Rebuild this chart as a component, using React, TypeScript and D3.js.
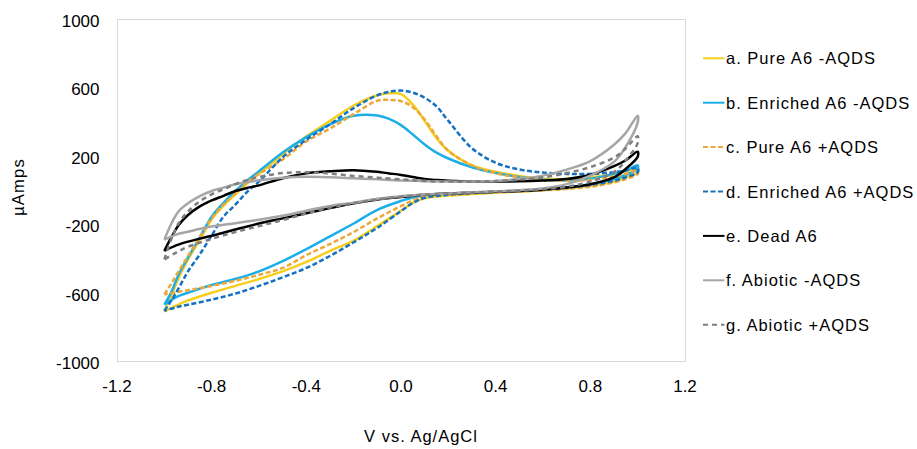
import React from "react";
import * as d3 from "d3";

// Potential grids (V vs. Ag/AgCl): forward scan and reverse scan
const FWD_V = [-1, -0.97, -0.94, -0.9, -0.85, -0.8, -0.75, -0.7, -0.65, -0.6, -0.5, -0.4, -0.3, -0.2, -0.1, -0.05, 0, 0.05, 0.1, 0.15, 0.2, 0.3, 0.4, 0.5, 0.6, 0.7, 0.8, 0.9, 0.95, 1.0];
const REV_V = [1.0, 0.95, 0.9, 0.8, 0.7, 0.6, 0.5, 0.4, 0.3, 0.2, 0.1, 0.05, 0, -0.1, -0.2, -0.3, -0.4, -0.5, -0.6, -0.7, -0.8, -0.9, -0.95, -1.0];

// Currents (µAmps)
const A_FWD = [-705, -610, -510, -400, -285, -165, -85, -20, 45, 100, 215, 320, 410, 500, 560, 572, 566, 505, 410, 310, 235, 150, 113, 88, 72, 70, 80, 100, 115, 135];
const A_REV = [110, 80, 55, 30, 15, 5, -3, -10, -18, -27, -42, -70, -115, -205, -290, -350, -415, -470, -515, -555, -595, -640, -670, -705];

const B_FWD = [-665, -590, -490, -390, -270, -150, -70, 0, 60, 115, 225, 315, 390, 440, 442, 422, 385, 330, 272, 224, 190, 138, 105, 82, 67, 62, 72, 100, 120, 150];
const B_REV = [130, 95, 70, 40, 20, 8, 0, -5, -10, -16, -25, -38, -58, -110, -190, -265, -340, -410, -470, -515, -550, -595, -620, -665];

const C_FWD = [-605, -540, -470, -380, -270, -160, -80, -15, 50, 100, 185, 290, 365, 450, 528, 533, 525, 490, 418, 320, 235, 150, 104, 80, 65, 60, 65, 85, 100, 120];
const C_REV = [100, 70, 50, 25, 12, 4, -3, -8, -14, -22, -35, -55, -88, -160, -240, -310, -375, -450, -490, -525, -555, -580, -592, -605];

const D_FWD = [-700, -640, -570, -470, -370, -260, -150, -80, -5, 55, 197, 300, 390, 485, 560, 580, 587, 575, 545, 495, 410, 250, 165, 126, 108, 100, 100, 110, 120, 135];
const D_REV = [110, 80, 60, 35, 20, 10, 3, -5, -12, -22, -40, -70, -118, -215, -300, -380, -450, -505, -555, -600, -635, -665, -680, -700];

const E_FWD = [-350, -270, -200, -140, -90, -55, -28, 0, 18, 33, 75, 103, 115, 122, 112, 103, 94, 82, 70, 64, 60, 55, 55, 57, 62, 70, 95, 145, 180, 230];
const E_REV = [200, 130, 80, 40, 20, 8, 0, -5, -10, -15, -22, -28, -35, -50, -72, -100, -130, -160, -190, -225, -262, -296, -318, -350];

const F_FWD = [-285, -190, -120, -72, -30, 0, 20, 40, 52, 63, 78, 83, 80, 74, 68, 65, 62, 60, 58, 57, 55, 55, 58, 70, 90, 125, 175, 270, 340, 440];
const F_REV = [400, 260, 170, 90, 40, 15, 5, -2, -8, -14, -20, -25, -30, -45, -68, -88, -115, -145, -168, -188, -208, -238, -255, -285];

const G_FWD = [-400, -280, -190, -120, -60, -20, 10, 40, 65, 82, 105, 110, 102, 88, 78, 73, 68, 63, 58, 56, 55, 55, 58, 66, 80, 105, 140, 195, 250, 320];
const G_REV = [280, 180, 110, 55, 25, 10, 2, -4, -10, -15, -22, -27, -33, -50, -72, -97, -132, -170, -205, -240, -280, -326, -360, -400];

const SERIES_NAMES = [
  "a. Pure A6 -AQDS",
  "b. Enriched A6 -AQDS",
  "c. Pure A6 +AQDS",
  "d. Enriched A6 +AQDS",
  "e. Dead A6",
  "f. Abiotic -AQDS",
  "g. Abiotic +AQDS",
];
const SERIES_FWD = [A_FWD, B_FWD, C_FWD, D_FWD, E_FWD, F_FWD, G_FWD];
const SERIES_REV = [A_REV, B_REV, C_REV, D_REV, E_REV, F_REV, G_REV];

const X_TICKS = [-1.2, -0.8, -0.4, 0.0, 0.4, 0.8, 1.2];
const Y_TICKS = [-1000, -600, -200, 200, 600, 1000];

const STYLES = [
  { color: "#F7CE1C", dash: null },
  { color: "#1BAEE8", dash: null },
  { color: "#EDA83A", dash: "5,2.5" },
  { color: "#1572C2", dash: "5,2.5" },
  { color: "#000000", dash: null },
  { color: "#A6A6A6", dash: null },
  { color: "#7F7F7F", dash: "5,4" },
];

const FONT = "'Liberation Sans', Arial, Helvetica, sans-serif";

export default function App() {
  const W = 917;
  const H = 449;
  const left = 117, right = 685, top = 20, bottom = 362;
  const x = d3.scaleLinear().domain([-1.2, 1.2]).range([left, right]);
  const y = d3.scaleLinear().domain([-1000, 1000]).range([bottom, top]);

  const line = d3
    .line<[number, number]>()
    .x((d) => x(d[0]))
    .y((d) => y(d[1]))
    .curve(d3.curveCatmullRom.alpha(0.5));

  const loops = SERIES_FWD.map((fwd, i) => {
    const pts: [number, number][] = [];
    fwd.forEach((v, k) => pts.push([FWD_V[k], v]));
    SERIES_REV[i].forEach((v, k) => pts.push([REV_V[k], v]));
    return pts;
  });

  const legendX = 703;
  const legendY0 = 58.3;
  const legendStep = 44.4;

  return (
    <svg
      width={W}
      height={H}
      style={{ position: "absolute", left: 0, top: 0, background: "#fff" }}
      fontFamily={FONT}
    >
      <rect x={0} y={0} width={W} height={H} fill="#fff" />
      <rect
        x={left + 0.5}
        y={top - 0.5}
        width={right - left}
        height={bottom - top}
        fill="none"
        stroke="#D9D9D9"
        strokeWidth={1}
      />
      {/* Y tick labels */}
      {Y_TICKS.map((t) => (
        <text key={"y" + t} x={99.5} y={y(t) + 7} textAnchor="end" fontSize={17} fill="#000">
          {String(t)}
        </text>
      ))}
      {/* X tick labels */}
      {X_TICKS.map((t) => (
        <text key={"x" + t} x={x(t)} y={392} textAnchor="middle" fontSize={17} fill="#000">
          {t.toFixed(1)}
        </text>
      ))}
      {/* Axis titles */}
      <text
        transform={`translate(24,187) rotate(-90)`}
        textAnchor="middle"
        fontSize={16.5}
        letterSpacing={1.2}
        fill="#000"
      >
        µAmps
      </text>
      <text x={421} y={442} textAnchor="middle" fontSize={16.5} letterSpacing={1} fill="#000">
        V vs. Ag/AgCl
      </text>
      {/* Series */}
      <g>
        {loops.map((pts, i) => (
          <path
            key={"s" + i}
            d={line(pts) || ""}
            fill="none"
            stroke={STYLES[i].color}
            strokeWidth={2.5}
            strokeDasharray={STYLES[i].dash || undefined}
            strokeLinejoin="round"
          />
        ))}
      </g>
      {/* Legend */}
      {SERIES_NAMES.map((name, i) => {
        const cy = legendY0 + i * legendStep;
        return (
          <g key={"l" + i}>
            <line
              x1={legendX}
              x2={legendX + 21.5}
              y1={cy}
              y2={cy}
              stroke={STYLES[i].color}
              strokeWidth={2}
              strokeDasharray={STYLES[i].dash || undefined}
            />
            <text x={726} y={cy + 6} fontSize={16.5} letterSpacing={1} fill="#000">
              {name}
            </text>
          </g>
        );
      })}
    </svg>
  );
}
